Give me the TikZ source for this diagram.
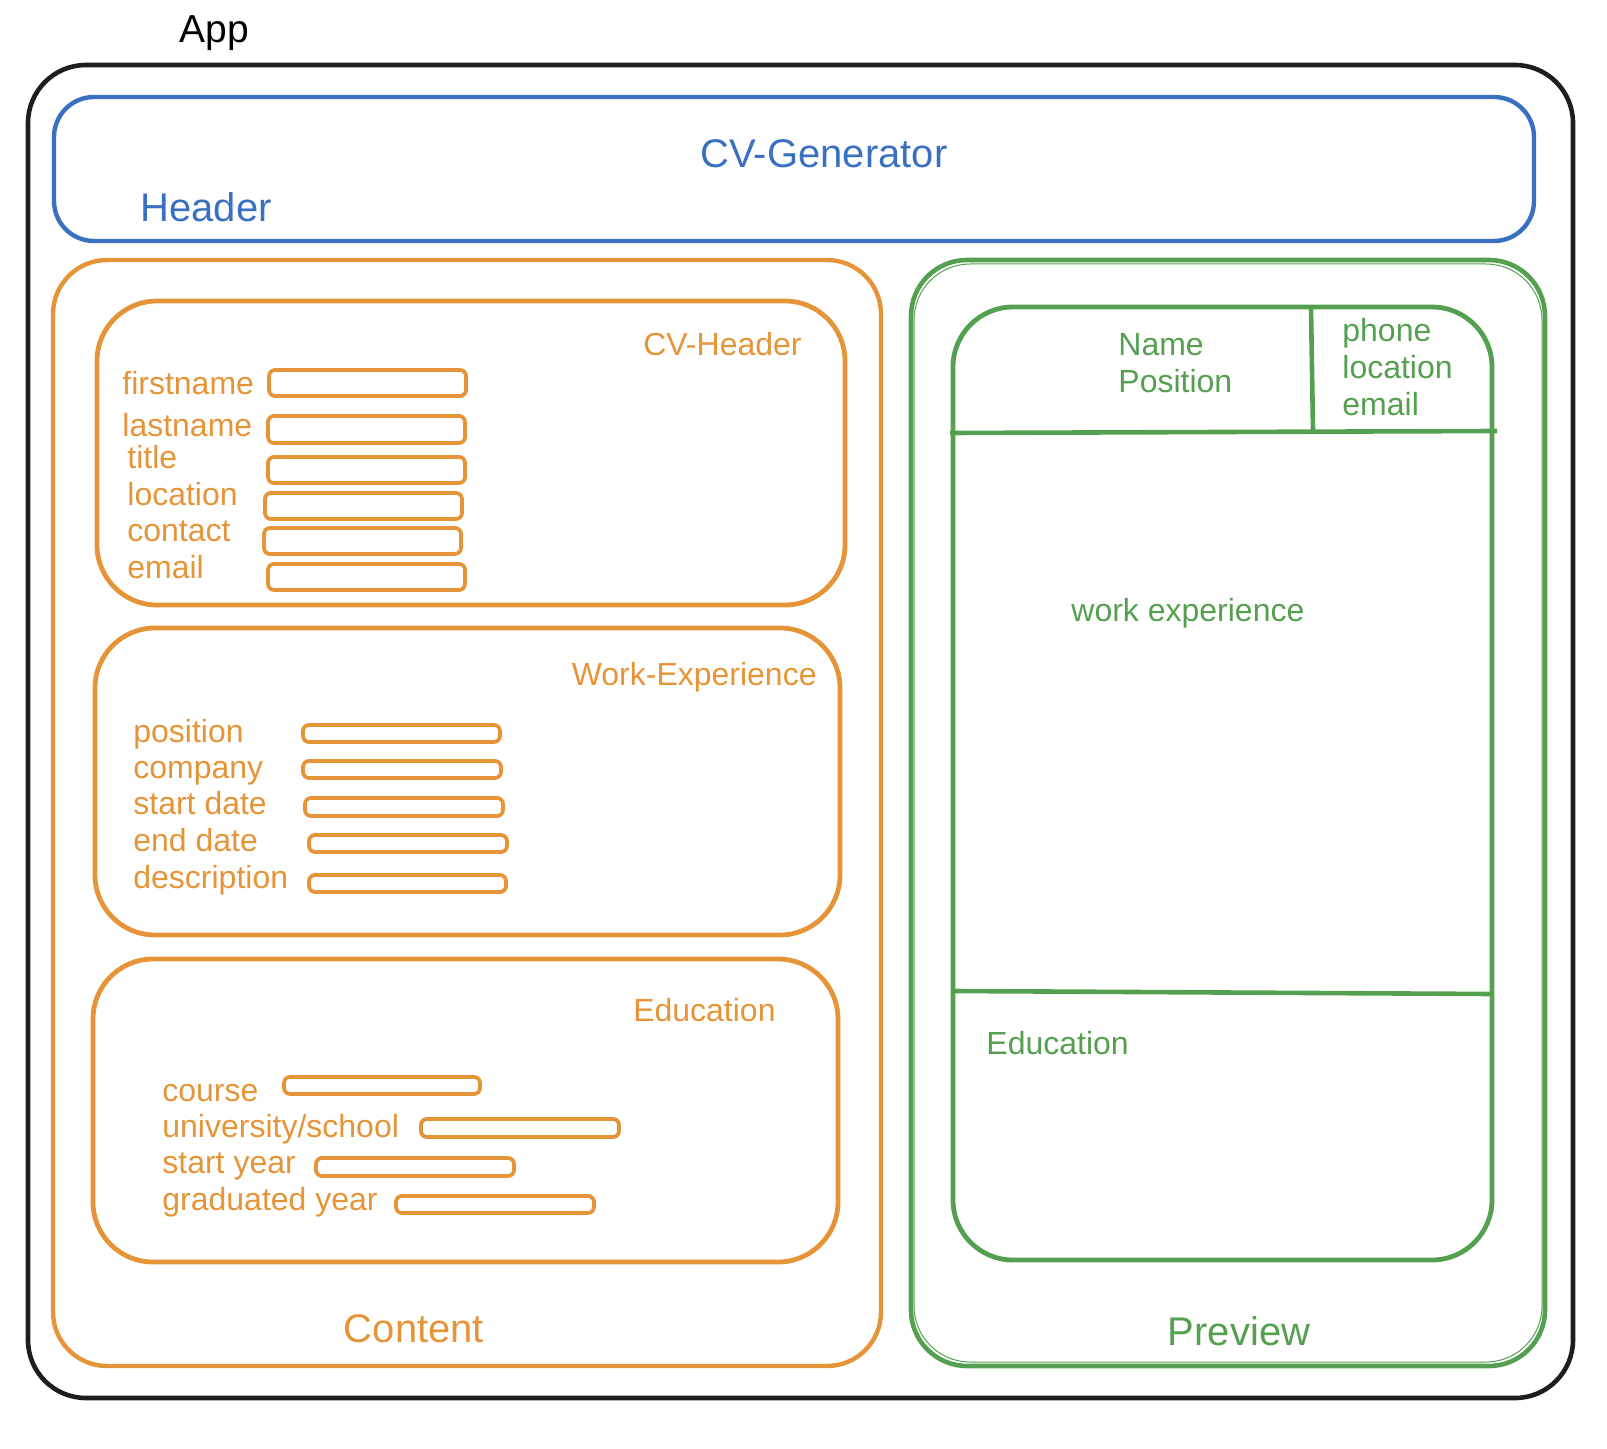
\documentclass[tikz,border=0pt]{standalone}
\usepackage{fontspec}
\setmainfont{Liberation Sans}
\definecolor{inkblack}{RGB}{30,30,30}
\definecolor{hdrblue}{RGB}{58,112,192}
\definecolor{formorange}{RGB}{230,148,56}
\definecolor{viewgreen}{RGB}{84,160,80}
\tikzset{
  appbox/.style={draw=inkblack, line width=2.3pt, rounded corners=29pt},
  hdrbox/.style={draw=hdrblue, line width=2.2pt, rounded corners=20pt},
  panelor/.style={draw=formorange, line width=2.2pt, rounded corners=27pt},
  sectionor/.style={draw=formorange, line width=2.4pt, rounded corners=30pt},
  field/.style={draw=formorange, line width=1.9pt, rounded corners=3pt},
  panelgr/.style={draw=viewgreen, line width=2.3pt, rounded corners=28pt},
  sheetgr/.style={draw=viewgreen, line width=2.4pt, rounded corners=30pt},
  rulegr/.style={draw=viewgreen, line width=2.3pt},
  bigtxt/.style={inner sep=0pt, font=\fontsize{20}{24}\selectfont},
  lbl/.style={inner sep=0pt, font=\fontsize{16}{19}\selectfont},
}
\begin{document}
\begin{tikzpicture}[x=0.5pt, y=-0.5pt]
\useasboundingbox (0,0) rectangle (1607,1449);

% App frame
\draw[appbox] (28,65) rectangle (1573,1398);
\node[bigtxt, anchor=base, text=black, font=\fontsize{19.5}{24}\selectfont] (tApp) at (214,43) {App};

% Header bar
\draw[hdrbox] (54,97) rectangle (1534,241);
\node[bigtxt, anchor=base, text=hdrblue] (tGen) at (824,168) {CV-Generator};
\node[bigtxt, anchor=base west, text=hdrblue] (tHeader) at (140,222) {Header};

% Content panel
\draw[panelor] (53,260) rectangle (881,1366);
\node[bigtxt, anchor=base, text=formorange] (tContent) at (414,1342) {Content};

% CV-Header section
\draw[sectionor] (97,301) rectangle (845,605);
\node[lbl, anchor=base east, text=formorange] (tCvh) at (802,356) {CV-Header};
\node[lbl, anchor=base west, text=formorange] (lFirst) at (122,395) {firstname};
\node[lbl, anchor=base west, text=formorange] (lLast) at (122,437) {lastname};
\node[lbl, anchor=base west, text=formorange] (lTitle) at (127,469) {title};
\node[lbl, anchor=base west, text=formorange] (lLoc) at (127,506) {location};
\node[lbl, anchor=base west, text=formorange] (lContact) at (127,542) {contact};
\node[lbl, anchor=base west, text=formorange] (lEmail) at (127,579) {email};
\draw[field] (269,370) rectangle (466,396);
\draw[field] (268,416) rectangle (465,443);
\draw[field] (268,457) rectangle (465,483);
\draw[field] (265,493) rectangle (462,519);
\draw[field] (264,528) rectangle (461,554);
\draw[field] (268,564) rectangle (465,590);

% Work-Experience section
\draw[sectionor] (95,628) rectangle (840,935);
\node[lbl, anchor=base east, text=formorange] (tWork) at (817,685) {Work-Experience};
\node[lbl, anchor=base west, text=formorange] (lPos) at (133,742) {position};
\node[lbl, anchor=base west, text=formorange] (lComp) at (133,778) {company};
\node[lbl, anchor=base west, text=formorange] (lStart) at (133,814) {start date};
\node[lbl, anchor=base west, text=formorange] (lEnd) at (133,851) {end date};
\node[lbl, anchor=base west, text=formorange] (lDesc) at (133,888) {description};
\draw[field] (303,725) rectangle (500,742);
\draw[field] (303,761) rectangle (501,778);
\draw[field] (305,798) rectangle (503,816);
\draw[field] (309,835) rectangle (507,852);
\draw[field] (309,875) rectangle (506,892);

% Education section
\draw[sectionor] (93,959) rectangle (838,1262);
\node[lbl, anchor=base east, text=formorange] (tEdu) at (776,1021) {Education};
\node[lbl, anchor=base west, text=formorange] (lCourse) at (162,1101) {course};
\node[lbl, anchor=base west, text=formorange] (lUni) at (162,1137) {university/school};
\node[lbl, anchor=base west, text=formorange] (lSy) at (162,1173) {start year};
\node[lbl, anchor=base west, text=formorange] (lGy) at (162,1210) {graduated year};
\draw[field] (284,1077) rectangle (480,1094);
\draw[field] (421,1119) rectangle (619,1137);
\draw[field] (316,1158) rectangle (514,1176);
\draw[field] (396,1196) rectangle (594,1213);

% Preview panel (sketched with a faint second stroke)
\draw[panelgr] (911,260) rectangle (1545,1366);
\draw[draw=viewgreen, line width=0.5pt, rounded corners=28pt] (914,264) rectangle (1542,1362);
\node[bigtxt, anchor=base, text=viewgreen] (tPreview) at (1239,1345) {Preview};

% Preview sheet
\draw[sheetgr] (953,307) rectangle (1492,1260);
\draw[rulegr] (950,433) -- (1497,431);
\draw[rulegr] (1311,307) -- (1313,431);
\draw[rulegr] (953,991) -- (1492,994);
\node[lbl, anchor=base west, text=viewgreen] (pName) at (1118,356) {Name};
\node[lbl, anchor=base west, text=viewgreen] (pPos) at (1118,393) {Position};
\node[lbl, anchor=base west, text=viewgreen] (pPhone) at (1342,342) {phone};
\node[lbl, anchor=base west, text=viewgreen] (pLoc) at (1342,379) {location};
\node[lbl, anchor=base west, text=viewgreen] (pMail) at (1342,416) {email};
\node[lbl, anchor=base west, text=viewgreen] (pWork) at (1071,621) {work experience};
\node[lbl, anchor=base west, text=viewgreen] (pEdu) at (986,1054) {Education};
\end{tikzpicture}
\end{document}
